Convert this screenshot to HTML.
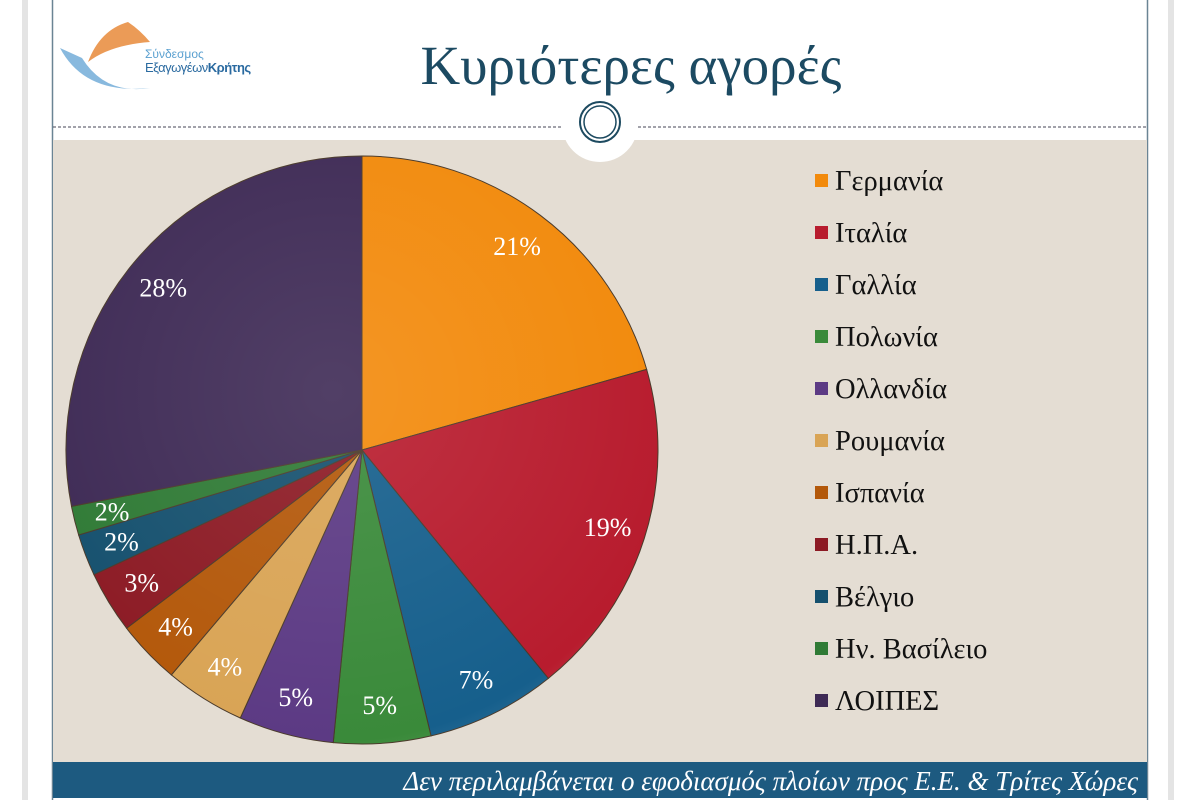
<!DOCTYPE html>
<html><head><meta charset="utf-8"><style>
body{margin:0;width:1200px;height:800px;background:#fff;overflow:hidden;font-family:"Liberation Serif",serif;}
</style></head><body>
<svg width="1200" height="800" viewBox="0 0 1200 800">
<defs>
<radialGradient id="sh" cx="0.45" cy="0.4" r="0.7">
<stop offset="0" stop-color="#fff" stop-opacity="0.1"/><stop offset="0.85" stop-color="#fff" stop-opacity="0"/><stop offset="1" stop-color="#000" stop-opacity="0.2"/>
</radialGradient>
</defs>
<rect x="22" y="0" width="6" height="800" fill="#e4e4e4"/>
<rect x="1168" y="0" width="6" height="800" fill="#e4e4e4"/>
<line x1="52.5" y1="0" x2="52.5" y2="800" stroke="#6a8494" stroke-width="1.5"/>
<line x1="1147.5" y1="0" x2="1147.5" y2="800" stroke="#6a8494" stroke-width="1.5"/>
<rect x="53" y="140" width="1094" height="622" fill="#e4ddd3"/>
<line x1="53" y1="127" x2="1147" y2="127" stroke="#445" stroke-width="1" stroke-dasharray="3,2"/>
<circle cx="600" cy="124" r="38" fill="#fff"/>
<circle cx="600" cy="122" r="20" fill="none" stroke="#1d4a60" stroke-width="2"/>
<circle cx="600" cy="122" r="16" fill="none" stroke="#1d4a60" stroke-width="1.5"/>
<g>
<path d="M128 22 Q100 30 88 62 Q110 45 150 42 Q140 30 128 22 Z" fill="#e8893a" opacity="0.85"/>
<path d="M60 48 Q85 95 150 88 Q105 95 82 58 Z" fill="#6aa7d6" opacity="0.8"/>
<text x="145" y="58" font-family="Liberation Sans, sans-serif" font-size="12" fill="#5aa0d0">Σύνδεσμος</text>
<text x="145" y="72" font-family="Liberation Sans, sans-serif" font-size="13" fill="#2a6aa0" letter-spacing="-0.5">Εξαγωγέων<tspan font-weight="bold">Κρήτης</tspan></text>
</g>
<text x="631" y="84" text-anchor="middle" font-size="55" fill="#1c4a62">Κυριότερες αγορές</text>
<g id="pie"></g>
<g id="legend"></g>
<rect x="53" y="762" width="1094" height="36" fill="#1d5a80"/>
<text x="1138" y="790" text-anchor="end" font-size="27" font-style="italic" fill="#fff">Δεν περιλαμβάνεται ο εφοδιασμός πλοίων προς Ε.Ε. &amp; Τρίτες Χώρες</text>
</svg>
<script>
const categories=["Γερμανία","Ιταλία","Γαλλία","Πολωνία","Ολλανδία","Ρουμανία","Ισπανία","Η.Π.Α.","Βέλγιο","Ην. Βασίλειο","ΛΟΙΠΕΣ"];
const values=[20.6,18.6,7.1,5.3,5.2,4.4,3.5,3.4,2.3,1.6,28.1];
const colors=["#f28a0c","#b81c2e","#165f8c","#3a8a3a","#5c3a84","#d9a455","#b3580a","#8c1a24","#15506e","#2f7a35","#3e2a55"];
const NS="http://www.w3.org/2000/svg";
const cx=362,cy=450,rx=296,ry=294;
const total=values.reduce((a,b)=>a+b,0);
const pie=document.getElementById('pie');
let a0=0;
function pt(a,f){return [cx+Math.sin(a)*rx*f, cy-Math.cos(a)*ry*f];}
const labels=[];
values.forEach((v,i)=>{
 const a1=a0+v/total*2*Math.PI;
 const p0=pt(a0,1),p1=pt(a1,1);
 const path=document.createElementNS(NS,'path');
 path.setAttribute('d',`M${cx},${cy} L${p0[0]},${p0[1]} A${rx},${ry} 0 ${a1-a0>Math.PI?1:0} 1 ${p1[0]},${p1[1]} Z`);
 path.setAttribute('fill',colors[i]);path.setAttribute('stroke','#4a3a2a');path.setAttribute('stroke-width','1');
 
 
 pie.appendChild(path);
 const m=(a0+a1)/2,lp=pt(m,0.87);
 const t=document.createElementNS(NS,'text');
 t.setAttribute('x',lp[0]);t.setAttribute('y',lp[1]+9);t.setAttribute('text-anchor','middle');
 t.setAttribute('font-size','26');t.setAttribute('fill','#fff');
 t.textContent=Math.round(v)+'%';
 
 
 labels.push(t);
 a0=a1;
});
const sh=document.createElementNS(NS,'ellipse');
sh.setAttribute('cx',cx);sh.setAttribute('cy',cy);sh.setAttribute('rx',rx);sh.setAttribute('ry',ry);sh.setAttribute('fill','url(#sh)');sh.setAttribute('pointer-events','none');


pie.appendChild(sh);
labels.forEach(t=>pie.appendChild(t));
const lg=document.getElementById('legend');
categories.forEach((c,i)=>{
 const y=180+i*52;
 const g=document.createElementNS(NS,'g');
 
 
 const r=document.createElementNS(NS,'rect');
 r.setAttribute('x',815);r.setAttribute('y',y-6);r.setAttribute('width',13);r.setAttribute('height',13);r.setAttribute('fill',colors[i]);
 g.appendChild(r);
 const t=document.createElementNS(NS,'text');
 t.setAttribute('x',835);t.setAttribute('y',y+10);t.setAttribute('font-size','28.5');t.setAttribute('fill','#111');
 t.textContent=c;g.appendChild(t);lg.appendChild(g);
});
</script>
</body></html>
